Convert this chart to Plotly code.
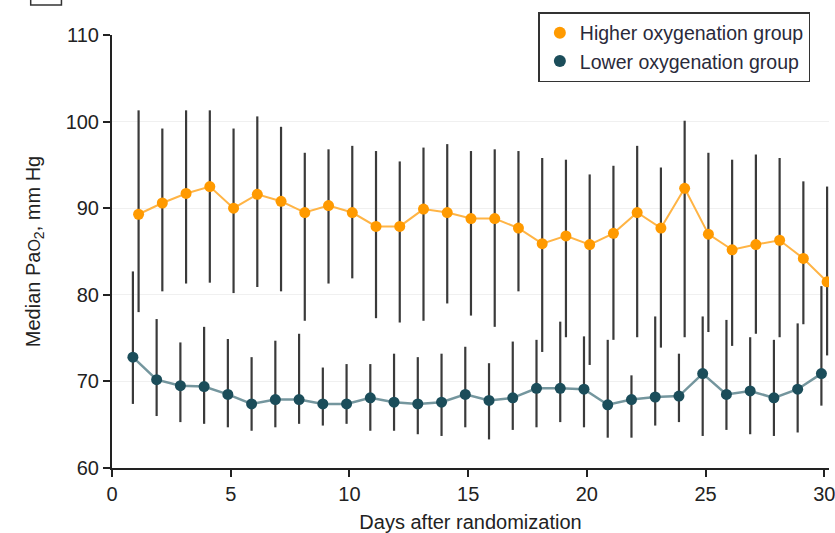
import plotly.graph_objects as go

days = list(range(1, 31))

higher_median = [89.3, 90.6, 91.7, 92.5, 90.0, 91.6, 90.8, 89.5, 90.3, 89.5,
                 87.9, 87.9, 89.9, 89.5, 88.8, 88.8, 87.7, 85.9, 86.8, 85.8,
                 87.1, 89.5, 87.7, 92.3, 87.0, 85.2, 85.8, 86.3, 84.2, 81.5]
higher_upper = [101.3, 99.2, 101.3, 101.3, 99.2, 100.6, 99.4, 96.4, 96.8, 97.2,
                96.6, 95.4, 97.0, 97.4, 96.6, 96.8, 96.6, 95.8, 95.6, 93.9,
                94.9, 97.2, 94.7, 100.1, 96.4, 95.6, 96.2, 95.8, 93.1, 92.5]
higher_lower = [78.0, 80.4, 81.3, 81.4, 80.2, 80.9, 80.4, 77.0, 81.3, 81.9,
                77.3, 76.8, 77.0, 79.0, 77.6, 76.3, 80.4, 73.4, 75.1, 71.9,
                74.8, 75.1, 73.9, 75.1, 75.7, 74.1, 75.5, 75.1, 76.6, 73.0]

lower_median = [72.8, 70.2, 69.5, 69.4, 68.5, 67.4, 67.9, 67.9, 67.4, 67.4,
                68.1, 67.6, 67.4, 67.6, 68.5, 67.8, 68.1, 69.2, 69.2, 69.1,
                67.3, 67.9, 68.2, 68.3, 70.9, 68.5, 68.9, 68.1, 69.1, 70.9]
lower_upper = [82.7, 77.2, 74.5, 76.3, 74.9, 72.8, 74.7, 75.5, 71.6, 72.0,
               72.0, 73.2, 72.8, 73.2, 74.0, 72.1, 74.6, 74.8, 76.9, 75.2,
               74.8, 70.7, 77.5, 73.2, 77.5, 77.1, 75.1, 74.8, 76.7, 81.0]
lower_lower = [67.4, 66.0, 65.3, 65.1, 64.7, 64.3, 64.7, 65.1, 64.9, 65.1,
               64.3, 64.3, 63.9, 63.7, 64.7, 63.3, 64.4, 64.7, 65.3, 64.7,
               63.5, 63.5, 64.9, 65.3, 63.7, 64.4, 63.9, 63.7, 64.1, 67.2]

x_ticks = [0, 5, 10, 15, 20, 25, 30]
y_ticks = [60, 70, 80, 90, 100, 110]

DODGE = 0.12
ORANGE = "#FF9A00"
TEAL = "#1B4D5A"
BAR = "#3a3a3a"
FONT = "Liberation Sans, Arial, sans-serif"

fig = go.Figure()


def add_group(xs, med, up, lo, name, group, marker_color, line_color, line_width):
    fig.add_trace(go.Scatter(
        x=xs, y=med, mode="lines", showlegend=False, hoverinfo="skip",
        line=dict(color=line_color, width=line_width), legendgroup=group,
    ))
    fig.add_trace(go.Scatter(
        x=xs, y=med, mode="markers", name=name, legendgroup=group,
        marker=dict(color=marker_color, size=11),
        error_y=dict(type="data", symmetric=False,
                     array=[u - m for u, m in zip(up, med)],
                     arrayminus=[m - l for m, l in zip(med, lo)],
                     color=BAR, thickness=2.2, width=0),
    ))


add_group([d + DODGE for d in days], higher_median, higher_upper, higher_lower,
          "Higher oxygenation group", "a", ORANGE, "#FFB445", 2)
add_group([d - DODGE for d in days], lower_median, lower_upper, lower_lower,
          "Lower oxygenation group", "b", TEAL, "rgba(70,115,126,0.75)", 2.5)

fig.add_shape(type="rect", xref="paper", yref="paper",
              x0=-0.1134, x1=-0.0705, y0=1.0693, y1=1.14,
              line=dict(color="#333333", width=1.5))

fig.update_layout(
    width=835, height=533,
    margin=dict(l=112, r=0, t=35, b=65),
    paper_bgcolor="white", plot_bgcolor="white",
    font=dict(family=FONT, color="#222222"),
    showlegend=True,
    legend=dict(
        x=0.974, xanchor="right", y=1.053, yanchor="top",
        bgcolor="white", bordercolor="#333333", borderwidth=1.5,
        font=dict(size=19.5, family=FONT, color="#2a2a3a"),
        tracegroupgap=0, itemsizing="constant",
    ),
    xaxis=dict(
        range=[0, 30.2], tickvals=x_ticks, ticktext=[str(t) for t in x_ticks],
        showgrid=False, zeroline=False,
        showline=True, linecolor="#222222", linewidth=2,
        ticks="outside", ticklen=7, tickwidth=1.5, tickcolor="#222222",
        tickfont=dict(size=20), ticklabeloverflow="allow",
        title=dict(text="Days after randomization", font=dict(size=20), standoff=13),
    ),
    yaxis=dict(
        range=[60, 110], tickvals=y_ticks, ticktext=[str(t) for t in y_ticks],
        showgrid=True, gridcolor="#f0f0f0", gridwidth=1, zeroline=False,
        showline=True, linecolor="#222222", linewidth=2,
        ticks="outside", ticklen=7, tickwidth=1.5, tickcolor="#222222",
        tickfont=dict(size=20),
        title=dict(text="Median Pa<span style='font-size:16px'>O</span><sub>2</sub>, mm Hg",
                   font=dict(size=20), standoff=20),
    ),
)

fig.write_html("out.html")
